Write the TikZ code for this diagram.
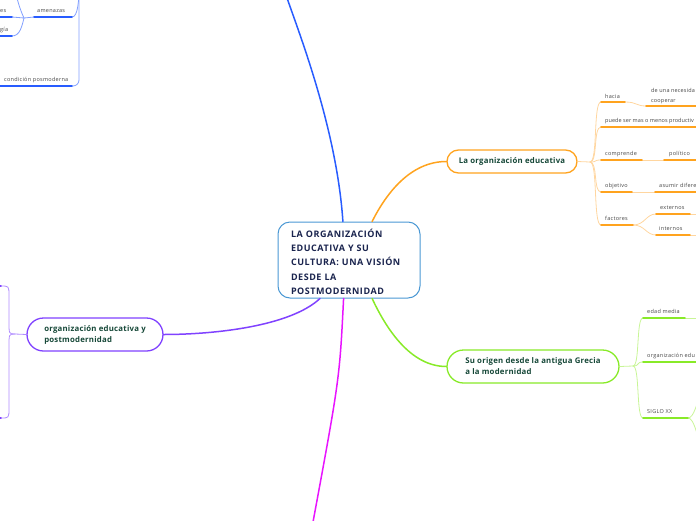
\documentclass[tikz,border=0pt]{standalone}
\usepackage{fontspec}
\setmainfont{Open Sans}
\usepackage{xcolor}
\usetikzlibrary{positioning}

\definecolor{rootline}{RGB}{74,152,212}
\definecolor{titleink}{RGB}{26,36,78}
\definecolor{topicink}{RGB}{22,72,56}
\definecolor{labelink}{RGB}{70,70,70}
\definecolor{bluebr}{RGB}{40,92,255}
\definecolor{bluelt}{RGB}{130,160,255}
\definecolor{orangebr}{RGB}{255,163,30}
\definecolor{orangelt}{RGB}{255,214,160}
\definecolor{greenbr}{RGB}{136,234,40}
\definecolor{greenlt}{RGB}{200,245,150}
\definecolor{purplebr}{RGB}{128,66,255}
\definecolor{purplelt}{RGB}{176,140,255}
\definecolor{magentabr}{RGB}{232,20,255}

\tikzset{
  rootbox/.style={draw=rootline, line width=1pt, rounded corners=12pt, fill=white,
    minimum width=142pt, minimum height=76pt, text width=116pt, align=left,
    inner sep=0pt, text=titleink,
    font=\fontsize{9}{14.3}\selectfont\bfseries\addfontfeatures{LetterSpace=6}},
  topic/.style={draw=#1, line width=1.3pt, fill=white, align=left, inner sep=0pt,
    text=topicink, font=\fontsize{7.8}{11}\selectfont\bfseries\addfontfeatures{LetterSpace=3}},
  lbl/.style={anchor=base west, inner sep=0pt, text=labelink,
    font=\fontsize{5.5}{10}\selectfont\addfontfeatures{LetterSpace=5}},
  ul/.style={line width=1.7pt, draw=#1},
  lnk/.style={line width=0.8pt, draw=#1},
  branch/.style={line width=1.5pt, draw=#1},
}

\begin{document}
\begin{tikzpicture}[x=1pt,y=-1pt,line cap=round]
  \useasboundingbox (0,0) rectangle (696,520);
  \clip (0,0) rectangle (696,520);

  % main topics
  \node[rootbox] (root) at (349,260)
    {\rule{0pt}{12pt}LA ORGANIZACIÓN\\EDUCATIVA Y SU\\CULTURA: UNA VISIÓN\\DESDE LA\\POSTMODERNIDAD};
  \node[topic=orangebr, minimum width=130pt, minimum height=23pt, rounded corners=11.5pt] (orgedu) at (512,161.5)
    {La organización educativa};
  \node[topic=greenbr, minimum width=172pt, minimum height=33pt, rounded corners=16.5pt] (origen) at (533,366.5)
    {Su origen desde la antigua Grecia\\a la modernidad};
  \node[topic=purplebr, minimum width=136pt, minimum height=33pt, rounded corners=16.5pt] (postmod) at (95,334.5)
    {organización educativa y\\postmodernidad};
  \coordinate (blue-end) at (287,-2);
  \coordinate (mag-end) at (313,522);

  % branches from the root
  \draw[branch=bluebr] (root.99) .. controls +(-6,-90) and +(14,40) .. (blue-end);
  \draw[branch=orangebr] (root.59) .. controls +(14,-28) and +(-36,0) .. (orgedu.west);
  \draw[branch=greenbr] (root.-59) .. controls +(14,30) and +(-36,0) .. (origen.west);
  \draw[branch=purplebr] (root.-127) .. controls +(-30,28) and +(50,0) .. (postmod.east);
  \draw[branch=magentabr] (root.-98) .. controls +(-4,80) .. (mag-end);

  % blue corner (top left)
  \coordinate (tl-top) at (79,-14);
  \coordinate (cond-l) at (-4,86);
  \coordinate (cond-r) at (72,86);
  \coordinate (amen-l) at (34,17);
  \coordinate (amen-r) at (72,17);
  \coordinate (tl-j) at (24,18);
  \coordinate (es-l) at (-4,17);
  \coordinate (es-r) at (12,17);
  \coordinate (gia-l) at (-4,36);
  \coordinate (gia-r) at (12,36);
  \coordinate (up-end) at (17,-2);
  \node[lbl] (cond) at (4,81) {condición posmoderna};
  \node[lbl] (amen) at (37,12) {amenazas};
  \node[lbl] (es) at (0,12) {es};
  \node[lbl] (gia) at (0,31) {gía};
  \draw[lnk=bluelt, rounded corners=6pt] (tl-top) |- (cond-r);
  \draw[lnk=bluelt] (amen-r) .. controls +(6,0) and +(0,14) .. (tl-top);
  \draw[lnk=bluelt] (tl-j) -- (amen-l);
  \draw[lnk=bluelt] (es-r) -- (tl-j);
  \draw[lnk=bluelt] (gia-r) .. controls +(8,0) and +(-2,8) .. (tl-j);
  \draw[lnk=bluelt] (up-end) .. controls +(2,8) and +(-2,-4) .. (tl-j);
  \draw[ul=bluebr] (cond-l) -- (cond-r);
  \draw[ul=bluebr] (amen-l) -- (amen-r);
  \draw[ul=bluebr] (es-l) -- (es-r);
  \draw[ul=bluebr] (gia-l) -- (gia-r);

  % orange subtopics
  \coordinate (or-j) at (590,162);
  \foreach \n/\y in {hac/102,pue/127,com/160,obj/192,fac/225}
    \coordinate (\n-l) at (601,\y);
  \coordinate (hac-r) at (625,102);
  \coordinate (nec-l) at (646,106);
  \coordinate (nec-r) at (700,106);
  \coordinate (pue-r) at (700,127);
  \coordinate (com-r) at (642,160);
  \coordinate (pol-l) at (664,160);
  \coordinate (pol-r) at (700,160);
  \coordinate (obj-r) at (632,192);
  \coordinate (asu-l) at (655,192);
  \coordinate (asu-r) at (700,192);
  \coordinate (fac-r) at (633,225);
  \coordinate (ext-l) at (656,214);
  \coordinate (ext-r) at (690,214);
  \coordinate (ext-e) at (700,214);
  \coordinate (int-l) at (656,235);
  \coordinate (int-r) at (690,235);
  \coordinate (int-e) at (700,235);
  \node[lbl] (hacia) at (605,98) {hacia};
  \node[lbl, align=left, font=\fontsize{5.5}{10}\selectfont\addfontfeatures{LetterSpace=3}] (nec) at (651,102) {de una necesida\\cooperar};
  \node[lbl, font=\fontsize{5.5}{10}\selectfont\addfontfeatures{LetterSpace=1}] (puede) at (605,122.5) {puede ser mas o menos productiv};
  \node[lbl] (compr) at (605,155.5) {comprende};
  \node[lbl] (polit) at (669,155.5) {político};
  \node[lbl] (objet) at (605,187.5) {objetivo};
  \node[lbl] (asumir) at (659,187.5) {asumir difere};
  \node[lbl] (fact) at (605,220.5) {factores};
  \node[lbl] (ext) at (660,209.5) {externos};
  \node[lbl] (int) at (659,230.5) {internos};
  \draw[lnk=orangelt] (orgedu.east) -- (or-j);
  \foreach \n in {hac,pue,com,obj,fac}
    \draw[lnk=orangelt] (or-j) .. controls +(8,0) and +(-8,0) .. (\n-l);
  \draw[lnk=orangelt] (hac-r) .. controls +(12,0) and +(-10,0) .. (nec-l);
  \draw[lnk=orangelt] (com-r) -- (pol-l);
  \draw[lnk=orangelt] (obj-r) -- (asu-l);
  \draw[lnk=orangelt] (fac-r) .. controls +(12,0) and +(-10,0) .. (ext-l);
  \draw[lnk=orangelt] (fac-r) .. controls +(12,0) and +(-10,0) .. (int-l);
  \draw[lnk=orangelt] (ext-r) -- (ext-e);
  \draw[lnk=orangelt] (int-r) -- (int-e);
  \foreach \a/\b in {hac-l/hac-r,nec-l/nec-r,pue-l/pue-r,com-l/com-r,pol-l/pol-r,
      obj-l/obj-r,asu-l/asu-r,fac-l/fac-r,ext-l/ext-r,int-l/int-r}
    \draw[ul=orangebr] (\a) -- (\b);

  % green subtopics
  \coordinate (gr-j) at (633,366);
  \coordinate (eda-l) at (643,318);
  \coordinate (eda-r) at (685,318);
  \coordinate (eda-e) at (700,318);
  \coordinate (oed-l) at (643,362);
  \coordinate (oed-r) at (700,362);
  \coordinate (sig-l) at (643,418);
  \coordinate (sig-r) at (688,418);
  \coordinate (sig-up) at (700,396);
  \coordinate (sig-dn) at (700,442);
  \node[lbl] (edad) at (647,313.5) {edad media};
  \node[lbl] (orged) at (647,357.5) {organización edu};
  \node[lbl] (siglo) at (647,413.5) {SIGLO XX};
  \draw[lnk=greenlt] (origen.east) -- (gr-j);
  \foreach \n in {eda,oed,sig}
    \draw[lnk=greenlt] (gr-j) .. controls +(7,0) and +(-7,0) .. (\n-l);
  \draw[lnk=greenlt] (eda-r) -- (eda-e);
  \draw[lnk=greenlt] (sig-r) .. controls +(6,0) and +(-3,6) .. (sig-up);
  \draw[lnk=greenlt] (sig-r) .. controls +(6,0) and +(-3,-6) .. (sig-dn);
  \foreach \a/\b in {eda-l/eda-r,oed-l/oed-r,sig-l/sig-r}
    \draw[ul=greenbr] (\a) -- (\b);

  % purple subtopics
  \coordinate (pu-j) at (15,334);
  \coordinate (pu-up) at (1,286);
  \coordinate (pu-dn) at (1,418);
  \coordinate (pu-upl) at (-6,286);
  \coordinate (pu-dnl) at (-6,418);
  \draw[lnk=purplelt] (postmod.west) -- (pu-j);
  \draw[lnk=purplelt] (pu-j) .. controls (9,334) .. (9,322) -- (9,296) .. controls (9,286) .. (pu-up);
  \draw[lnk=purplelt] (pu-j) .. controls (9,334) .. (9,346) -- (9,408) .. controls (9,418) .. (pu-dn);
  \draw[ul=purplebr] (pu-upl) -- (pu-up);
  \draw[ul=purplebr] (pu-dnl) -- (pu-dn);
\end{tikzpicture}
\end{document}
